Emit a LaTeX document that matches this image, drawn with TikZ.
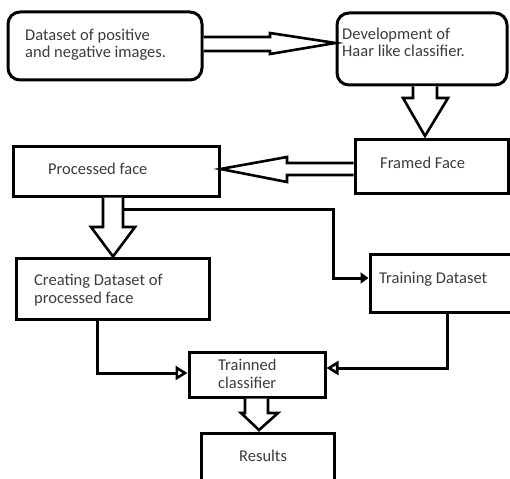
\documentclass[tikz,border=0pt]{standalone}
\usepackage{fontspec}
\setmainfont{Carlito}
\usetikzlibrary{arrows.meta,calc}
\definecolor{txt}{HTML}{3C3C3C}
\begin{document}
\begin{tikzpicture}[x=1pt,y=-1pt,
  box/.style={draw=black, line width=3pt, inner sep=0pt, fill=white},
  lbl/.style={anchor=base west, inner sep=0pt, text=txt, font=\fontsize{16.5}{17.5}\selectfont, align=left},
  barrow/.style={draw=black, line width=2.6pt, fill=white, line join=miter},
  conn/.style={draw=black, line width=3pt},
  opentip/.style={-{Triangle[open, length=12pt, width=14pt, line width=2.6pt]}},
  filltip/.style={-{Triangle[length=8pt, width=11pt]}}]
\useasboundingbox (0,0) rectangle (510,478);
\clip (0,0) rectangle (510,478);
\fill[white] (0,0) rectangle (510,478);
% boxes
\node[box, rounded corners=12pt, minimum width=194pt, minimum height=68pt] (b1) at (105,46) {};
\node[box, rounded corners=12pt, minimum width=170pt, minimum height=72pt] (b2) at (422,49) {};
\node[box, minimum width=153pt, minimum height=53pt] (b3) at (431.5,166.5) {};
\node[box, minimum width=206pt, minimum height=49pt] (b4) at (116,171.5) {};
\node[box, minimum width=193pt, minimum height=61pt] (b5) at (112.5,288.5) {};
\node[box, minimum width=145pt, minimum height=58pt] (b6) at (442.5,283) {};
\node[box, minimum width=136pt, minimum height=45pt] (b7) at (257,374.5) {};
\node[box, minimum width=133pt, minimum height=57pt] (b8) at (267.5,461.5) {};
% labels (base = baseline of last line)
\node[lbl] (t1) at (25,58) {Dataset of positive\\and negative images.};
\node[lbl] (t2) at (342,57) {Development of\\Haar like classifier.};
\node[lbl] (t3) at (380,168) {Framed Face};
\node[lbl] (t4) at (48,175) {Processed face};
\node[lbl] (t5) at (34,303) {Creating Dataset of\\processed face};
\node[lbl] (t6) at (379,283) {Training Dataset};
\node[lbl] (t7) at (218,388) {Trainned\\classifier};
\node[lbl] (t8) at (239,461) {Results};
% block arrows
\draw[barrow] (b1.east |- 0,37) -- (270,37) -- (270,33) -- (b2.west |- 0,43) -- (270,54) -- (270,51) -- (b1.east |- 0,51);
\draw[barrow] (413,0 |- b2.south) -- (413,98) -- (403,98) -- (425,136) -- (448,98) -- (437,98) -- (437,0 |- b2.south);
\draw[barrow] (b3.west |- 0,163) -- (287,163) -- (287,157) -- (b4.east |- 0,169) -- (287,182) -- (287,175) -- (b3.west |- 0,175);
\draw[barrow] (103,0 |- b4.south) -- (103,227) -- (91,227) -- (113,0 |- b5.north) -- (135,227) -- (123,227) -- (123,0 |- b4.south);
\draw[barrow] (245,0 |- b7.south) -- (245,413) -- (241,413) -- (259,430) -- (278,413) -- (268,413) -- (268,0 |- b7.south);
% connectors
\coordinate (s1) at (123,209);
\draw[conn, filltip] (s1) -- (333,209) -- (333,278) -- (b6.west |- 0,278);
\draw[conn, opentip] (97,0 |- b5.south) |- (b7.west |- 0,373);
\draw[conn, opentip] (447,0 |- b6.south) |- (b7.east |- 0,368);
\end{tikzpicture}
\end{document}
